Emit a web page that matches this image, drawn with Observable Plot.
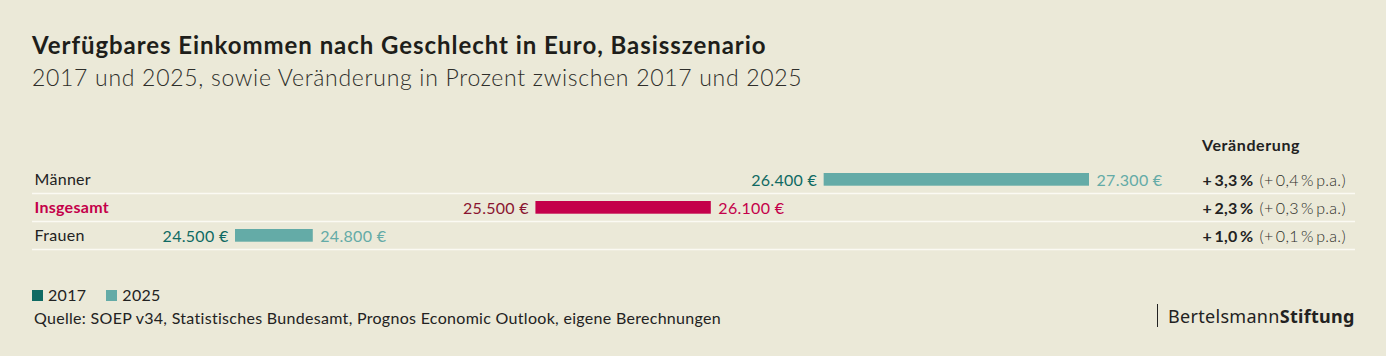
<!DOCTYPE html>
<html><head><meta charset="utf-8">
<script src="https://cdn.jsdelivr.net/npm/d3@7"></script>
<script src="https://cdn.jsdelivr.net/npm/@observablehq/plot@0.6"></script>
<style>
html,body{margin:0;padding:0;background:#ebe9d8;}
body{width:1386px;height:356px;position:relative;overflow:hidden;font-family:Lato,sans-serif;color:#222;}
.abs{position:absolute;white-space:nowrap;line-height:1;}
#title{left:32px;top:33px;font-size:24px;letter-spacing:0.95px;font-weight:700;color:#1e1e1a;}
#subtitle{left:32px;top:66px;font-size:23px;letter-spacing:0.7px;font-weight:300;color:#2e2e2a;}
#head{left:1202px;top:137px;font-size:16px;letter-spacing:0.6px;font-weight:700;color:#222;}
#chart{position:absolute;left:0;top:130px;}
#legend{left:32px;top:287px;font-size:16px;letter-spacing:0.3px;color:#222;display:flex;align-items:center;}
#legend .sw{display:inline-block;width:11px;height:11px;margin-right:5px;}
#legend .item{display:flex;align-items:center;margin-right:20px;}
#source{left:34px;top:310px;font-size:16px;letter-spacing:0.3px;color:#222;}
#logo{left:1157px;top:304px;height:23px;border-left:1.5px solid #222;padding-left:10px;font-family:"Noto Sans",sans-serif;font-size:18px;letter-spacing:0.3px;color:#222;display:flex;align-items:center;}
</style></head>
<body>
<div id="title" class="abs">Verfügbares Einkommen nach Geschlecht in Euro, Basisszenario</div>
<div id="subtitle" class="abs">2017 und 2025, sowie Veränderung in Prozent zwischen 2017 und 2025</div>
<div id="head" class="abs">Veränderung</div>
<div id="chart"></div>
<div id="legend" class="abs"></div>
<div id="source" class="abs">Quelle: SOEP v34, Statistisches Bundesamt, Prognos Economic Outlook, eigene Berechnungen</div>
<div id="logo" class="abs"><span>Bertelsmann</span><b>Stiftung</b></div>
<script>
const categories = ["Männer", "Insgesamt", "Frauen"];
const income2017 = [26430, 25485, 24500];
const income2025 = [27300, 26060, 24755];
const changeTotal = [3.3, 2.3, 1.0];
const changePerYear = [0.4, 0.3, 0.1];
const seriesNames = ["2017", "2025"];

const teal17 = "#0f6a63", teal25 = "#64aba7", crimson = "#c4004a", maroon = "#8a1530";
const de = d3.formatLocale({decimal: ",", thousands: ".", grouping: [3], currency: ["", " €"]});
const fmtEuro = v => de.format(",.0f")(Math.round(v / 100) * 100) + " €";
const fmt1 = de.format(".1f");
const thin = "\u2009";

const rows = categories.map((c, i) => ({
  cat: c, v17: income2017[i], v25: income2025[i],
  change: changeTotal[i], pa: changePerYear[i], total: c === "Insgesamt"
}));

const chart = Plot.plot({
  width: 1386, height: 130, margin: 0,
  style: {background: "transparent", fontFamily: "Lato, sans-serif", fontSize: "16px", letterSpacing: "0.3px", overflow: "visible"},
  x: {domain: [24500, 27300], range: [235, 1089], axis: null},
  y: {domain: categories, range: [34.5, 119.3], padding: 0, axis: null},
  color: {type: "identity"},
  marks: [
    Plot.ruleY(rows, {y: "cat", dy: 14, stroke: "#fbfaf3", strokeWidth: 1.5, insetLeft: 32, insetRight: 31}),
    Plot.barX(rows, {x1: "v17", x2: "v25", y: "cat", fill: d => d.total ? crimson : teal25, insetTop: 8, insetBottom: 7.3}),
    Plot.text(rows, {x: "v17", y: "cat", text: d => fmtEuro(d.v17), textAnchor: "end", dx: -7, dy: 1, fill: d => d.total ? maroon : teal17}),
    Plot.text(rows, {x: "v25", y: "cat", text: d => fmtEuro(d.v25), textAnchor: "start", dx: 7, dy: 1, fill: d => d.total ? crimson : teal25}),
    Plot.text(rows.filter(d => !d.total), {y: "cat", text: "cat", frameAnchor: "left", textAnchor: "start", dx: 34, dy: 0.5, fill: "#222"}),
    Plot.text(rows.filter(d => d.total), {y: "cat", text: "cat", frameAnchor: "left", textAnchor: "start", dx: 34, dy: 0.5, fill: crimson, fontWeight: 700}),
    Plot.text(rows, {y: "cat", text: d => `+${thin}${fmt1(d.change)}${thin}%`, frameAnchor: "left", textAnchor: "start", dx: 1202, dy: 1, fill: "#222", fontWeight: 700}),
    Plot.text(rows, {y: "cat", text: d => `(+${thin}${fmt1(d.pa)}${thin}%${thin}p.a.)`, frameAnchor: "left", textAnchor: "start", dx: 1259, dy: 1, fill: "#2e2e2a", fontWeight: 300, fontSize: 16})
  ]
});
document.getElementById("chart").appendChild(chart);

const legend = document.getElementById("legend");
[teal17, teal25].forEach((col, i) => {
  const it = document.createElement("span");
  it.className = "item";
  it.innerHTML = `<span class="sw" style="background:${col}"></span><span>${seriesNames[i]}</span>`;
  legend.appendChild(it);
});
</script>
</body></html>
